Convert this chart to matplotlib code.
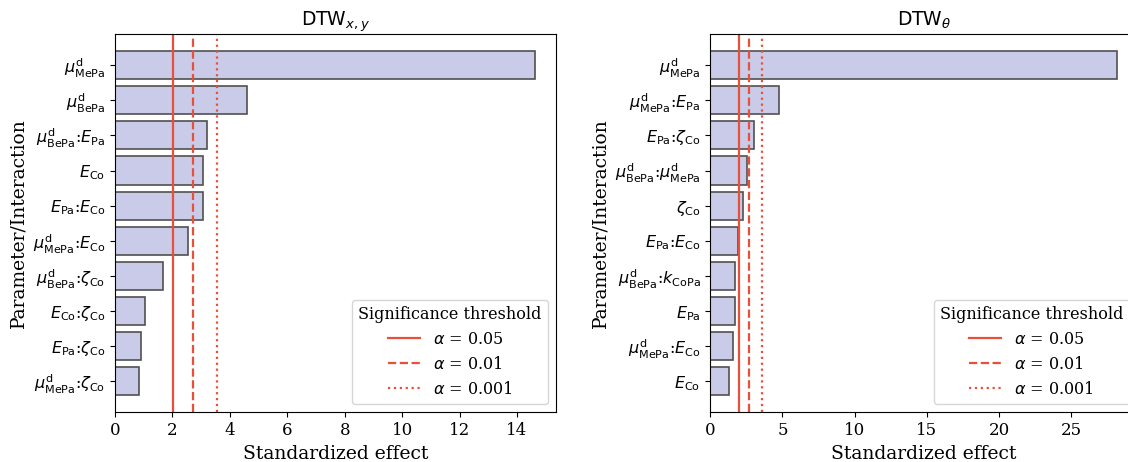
import numpy as np
import matplotlib
matplotlib.use('Agg')
import matplotlib.pyplot as plt

plt.rcParams['font.family'] = 'DejaVu Serif'
plt.rcParams['mathtext.fontset'] = 'dejavusans'

# left panel, DTW_{x,y} (top to bottom)
labels_xy = [r'$\mu^{\mathrm{d}}_{\mathrm{MePa}}$',
             r'$\mu^{\mathrm{d}}_{\mathrm{BePa}}$',
             r'$\mu^{\mathrm{d}}_{\mathrm{BePa}}$:$E_{\mathrm{Pa}}$',
             r'$E_{\mathrm{Co}}$',
             r'$E_{\mathrm{Pa}}$:$E_{\mathrm{Co}}$',
             r'$\mu^{\mathrm{d}}_{\mathrm{MePa}}$:$E_{\mathrm{Co}}$',
             r'$\mu^{\mathrm{d}}_{\mathrm{BePa}}$:$\zeta_{\mathrm{Co}}$',
             r'$E_{\mathrm{Co}}$:$\zeta_{\mathrm{Co}}$',
             r'$E_{\mathrm{Pa}}$:$\zeta_{\mathrm{Co}}$',
             r'$\mu^{\mathrm{d}}_{\mathrm{MePa}}$:$\zeta_{\mathrm{Co}}$']
effect_xy = [14.63, 4.61, 3.19, 3.06, 3.05, 2.55, 1.68, 1.03, 0.89, 0.84]

# right panel, DTW_theta (top to bottom)
labels_th = [r'$\mu^{\mathrm{d}}_{\mathrm{MePa}}$',
             r'$\mu^{\mathrm{d}}_{\mathrm{MePa}}$:$E_{\mathrm{Pa}}$',
             r'$E_{\mathrm{Pa}}$:$\zeta_{\mathrm{Co}}$',
             r'$\mu^{\mathrm{d}}_{\mathrm{BePa}}$:$\mu^{\mathrm{d}}_{\mathrm{MePa}}$',
             r'$\zeta_{\mathrm{Co}}$',
             r'$E_{\mathrm{Pa}}$:$E_{\mathrm{Co}}$',
             r'$\mu^{\mathrm{d}}_{\mathrm{BePa}}$:$k_{\mathrm{CoPa}}$',
             r'$E_{\mathrm{Pa}}$',
             r'$\mu^{\mathrm{d}}_{\mathrm{MePa}}$:$E_{\mathrm{Co}}$',
             r'$E_{\mathrm{Co}}$']
effect_th = [28.21, 4.76, 3.06, 2.53, 2.26, 1.92, 1.71, 1.71, 1.54, 1.27]

# significance thresholds
alphas = ['0.05', '0.01', '0.001']
thresholds = [2.021, 2.704, 3.551]
styles = ['-', '--', ':']

fig = plt.figure(figsize=(11.28, 4.62), dpi=100)
ax1 = fig.add_axes([0.102, 0.1076, 0.391, 0.8188])
ax2 = fig.add_axes([0.6297, 0.1076, 0.379, 0.8188])

for ax, labels, effect, title in [(ax1, labels_xy, effect_xy, r'$\mathrm{DTW}_{x,y}$'),
                                  (ax2, labels_th, effect_th, r'$\mathrm{DTW}_{\theta}$')]:
    y = np.arange(len(labels))
    ax.barh(y, effect, height=0.8, color='#c9cbe8', edgecolor='#505050', linewidth=1.2)
    ax.set_yticks(y)
    ax.set_yticklabels(labels, fontsize=11.5)
    ax.invert_yaxis()
    for a, t, s in zip(alphas, thresholds, styles):
        ax.axvline(t, color='#e8503a', linestyle=s, linewidth=1.6, label=r'$\alpha$ = ' + a)
    ax.set_xlabel('Standardized effect', fontsize=13.5)
    ax.set_ylabel('Parameter/Interaction', fontsize=13.5)
    ax.set_title(title, fontsize=13.5)
    ax.tick_params(axis='x', labelsize=12)
    ax.legend(title='Significance threshold', loc='lower right', fontsize=11.5, title_fontsize=11.5)

fig.savefig('out.png', dpi=100)
